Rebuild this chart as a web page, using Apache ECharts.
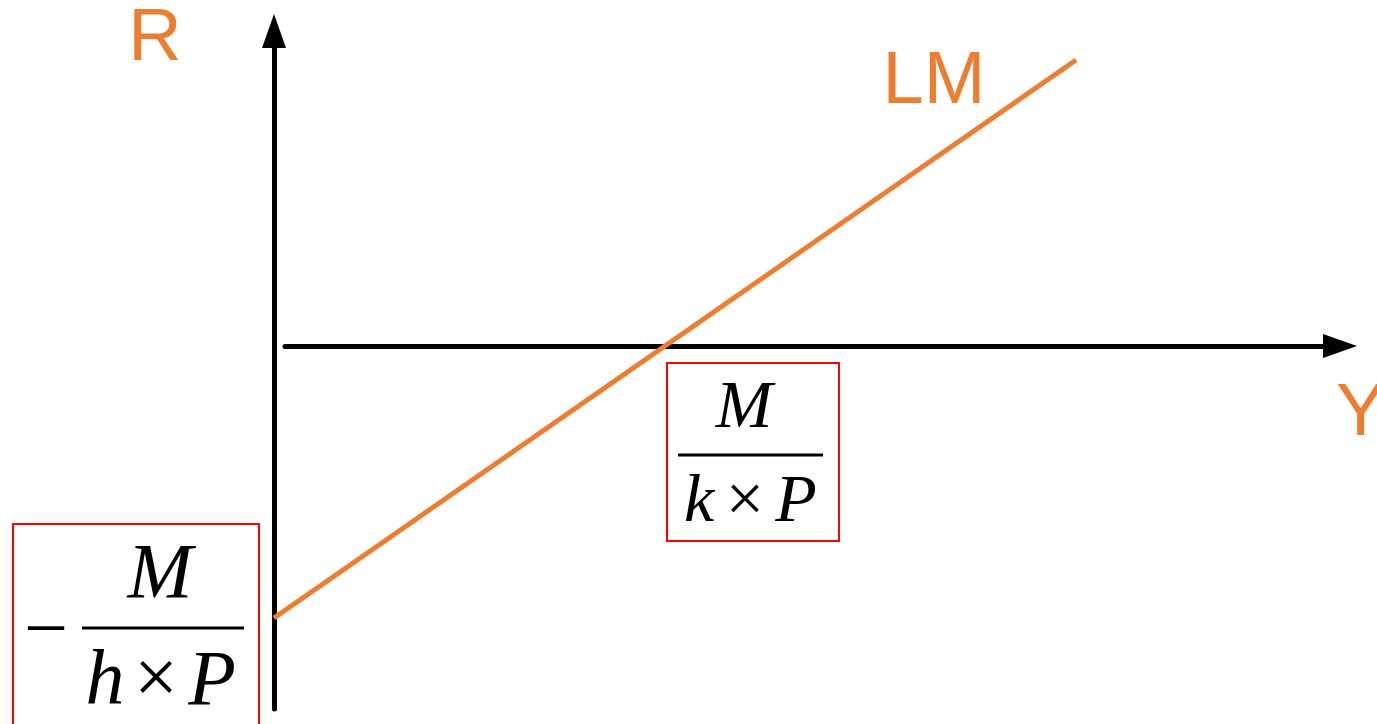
<!DOCTYPE html>
<html>
<head>
<meta charset="utf-8">
<script src="https://cdn.jsdelivr.net/npm/echarts@6/dist/echarts.min.js"></script>
<style>
html,body{margin:0;padding:0;background:#fff;}
#chart{width:1377px;height:724px;}
</style>
</head>
<body>
<div id="chart"></div>
<script>
// LM curve: two end points (Y, R) in abstract units
const lmY = [0, 8.02];
const lmR = [-2.72, 2.86];
// axis ranges
const yRange = [0, 10.66];
const rRange = [-3.63, 3.15];
const axisNames = { r: 'R', y: 'Y', curve: 'LM' };

const ORANGE = '#ED7D31';
const serif = '"Liberation Serif","Times New Roman",serif';
const sans = '"Liberation Sans",Arial,sans-serif';

const chart = echarts.init(document.getElementById('chart'), null, { renderer: 'canvas' });

function txt(text, x, y, size, font, color, style) {
  return {
    type: 'text', x: x, y: y, silent: true,
    style: {
      text: text, fill: color || '#000',
      font: (style || '') + ' ' + size + 'px ' + font,
      align: 'center', verticalAlign: 'middle'
    }
  };
}

const option = {
  animation: false,
  backgroundColor: '#fff',
  grid: [
    { left: 274, right: 37, top: 31, bottom: 15 },
    { left: 285, right: 37, top: 346, height: 1 }
  ],
  xAxis: [
    { type: 'value', gridIndex: 0, min: yRange[0], max: yRange[1], show: false },
    {
      type: 'value', gridIndex: 1, position: 'top', min: 0, max: 1,
      axisLine: { show: true, onZero: false, symbol: ['none', 'triangle'], symbolSize: [24, 34],
        lineStyle: { color: '#000', width: 5 } },
      axisTick: { show: false }, axisLabel: { show: false }, splitLine: { show: false }
    }
  ],
  yAxis: [
    {
      type: 'value', gridIndex: 0, min: rRange[0], max: rRange[1],
      axisLine: { show: true, onZero: false, symbol: ['none', 'triangle'], symbolSize: [24, 34],
        lineStyle: { color: '#000', width: 5 } },
      axisTick: { show: false }, axisLabel: { show: false }, splitLine: { show: false }
    },
    { type: 'value', gridIndex: 1, show: false, min: 0, max: 1 }
  ],
  series: [
    {
      type: 'line', xAxisIndex: 0, yAxisIndex: 0,
      data: lmY.map((v, i) => [v, lmR[i]]),
      showSymbol: false, silent: true,
      lineStyle: { color: ORANGE, width: 5, cap: 'butt' }
    }
  ],
  graphic: [
    txt(axisNames.r, 155, 40, 74, sans, ORANGE),
    txt(axisNames.curve, 934, 83, 74, sans, ORANGE),
    { type: 'text', x: 1336, y: 415, silent: true,
      style: { text: axisNames.y, fill: ORANGE, font: '74px ' + sans, align: 'left', verticalAlign: 'middle' } },
    // box: M / (k x P)
    { type: 'rect', silent: true, shape: { x: 667, y: 363, width: 172, height: 178 },
      style: { fill: 'none', stroke: '#FF0000', lineWidth: 2 } },
    txt('M', 744, 409, 68, serif, '#000', 'italic'),
    { type: 'line', silent: true, shape: { x1: 678, y1: 455, x2: 823, y2: 455 },
      style: { stroke: '#000', lineWidth: 3 } },
    txt('k', 699, 503, 68, serif, '#000', 'italic'),
    txt('×', 745, 503, 68, serif, '#000'),
    txt('P', 796, 503, 68, serif, '#000', 'italic'),
    // box: - M / (h x P)
    { type: 'rect', silent: true, shape: { x: 13, y: 524, width: 246, height: 220 },
      style: { fill: 'none', stroke: '#FF0000', lineWidth: 2 } },
    txt('−', 46, 634, 78, serif, '#000'),
    txt('M', 160, 576, 78, serif, '#000', 'italic'),
    { type: 'line', silent: true, shape: { x1: 82, y1: 628, x2: 244, y2: 628 },
      style: { stroke: '#000', lineWidth: 3 } },
    txt('h', 105, 683, 78, serif, '#000', 'italic'),
    txt('×', 156, 683, 78, serif, '#000'),
    txt('P', 212, 683, 78, serif, '#000', 'italic')
  ]
};
chart.setOption(option);
</script>
</body>
</html>
